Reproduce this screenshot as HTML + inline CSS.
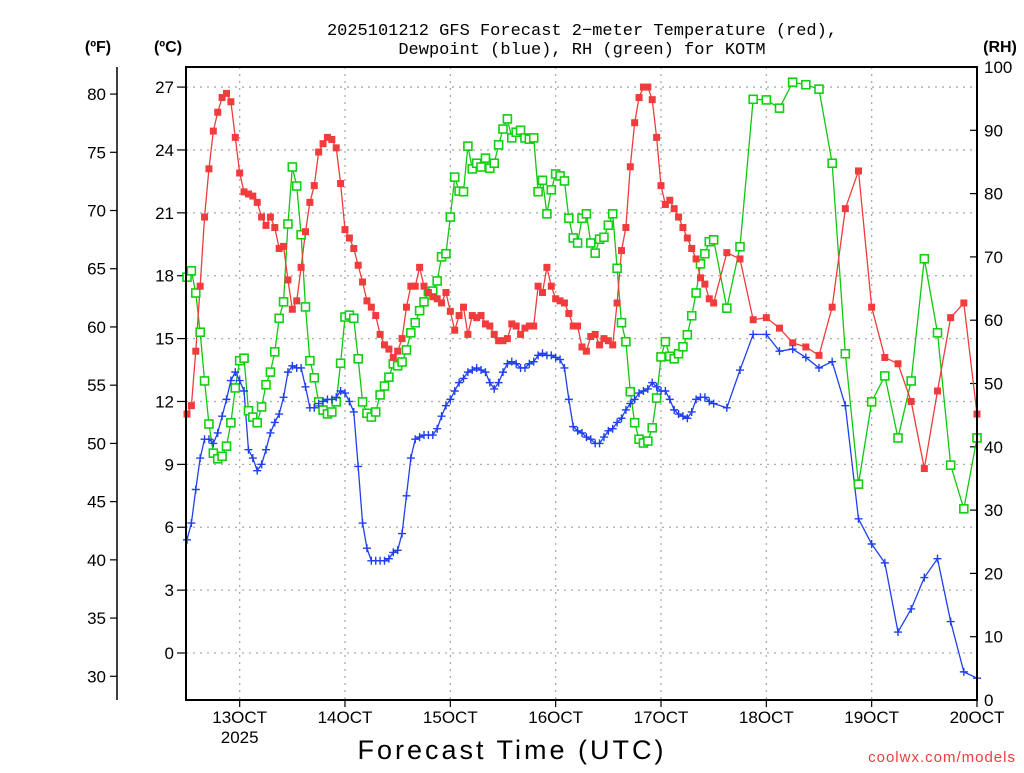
<!DOCTYPE html>
<html><head><meta charset="utf-8"><style>
body{margin:0;background:#fff;width:1024px;height:768px;overflow:hidden}
svg text{font-family:"Liberation Sans",sans-serif}
svg text.mono{font-family:"Liberation Mono",monospace}
</style></head><body>
<svg id="chart" width="1024" height="768" viewBox="0 0 1024 768" xmlns="http://www.w3.org/2000/svg">
<text class="mono" x="582" y="35" font-size="17" text-anchor="middle">2025101212 GFS Forecast 2−meter Temperature (red),</text>
<text class="mono" x="582" y="54" font-size="17" text-anchor="middle">Dewpoint (blue), RH (green) for KOTM</text>
<text x="98" y="52" font-size="16" font-weight="bold" text-anchor="middle">(ºF)</text>
<text x="168" y="52" font-size="16" font-weight="bold" text-anchor="middle">(ºC)</text>
<text x="1000" y="52" font-size="16" font-weight="bold" text-anchor="middle">(RH)</text>
<text x="512" y="759" font-size="27" text-anchor="middle" letter-spacing="3">Forecast Time (UTC)</text>
<text x="1016" y="762" font-size="15" fill="#f03c3c" text-anchor="end" letter-spacing="1">coolwx.com/models</text>
<g id="grid"></g><g id="axes"></g><g id="series"></g>
<rect x="186" y="67" width="791" height="633" fill="none" stroke="#000" stroke-width="2"/>
</svg>
<script>
const hours=[0,1,2,3,4,5,6,7,8,9,10,11,12,13,14,15,16,17,18,19,20,21,22,23,24,25,26,27,28,29,30,31,32,33,34,35,36,37,38,39,40,41,42,43,44,45,46,47,48,49,50,51,52,53,54,55,56,57,58,59,60,61,62,63,64,65,66,67,68,69,70,71,72,73,74,75,76,77,78,79,80,81,82,83,84,85,86,87,88,89,90,91,92,93,94,95,96,97,98,99,100,101,102,103,104,105,106,107,108,109,110,111,112,113,114,115,116,117,118,119,120,123,126,129,132,135,138,141,144,147,150,153,156,159,162,165,168,171,174,177,180];
const tempC=[11.4,11.8,14.4,17.5,20.8,23.1,24.9,25.8,26.5,26.7,26.3,24.6,22.9,22.0,21.9,21.8,21.5,20.8,20.4,20.8,20.3,19.3,19.4,17.8,16.4,16.8,18.4,20.1,21.5,22.3,23.9,24.3,24.6,24.5,24.1,22.4,20.2,19.8,19.3,18.5,17.7,16.8,16.5,16.1,15.2,14.7,14.5,14.1,14.4,15.0,16.5,17.5,17.5,18.4,17.5,17.2,17.0,16.9,16.7,17.2,16.3,
15.4,16.1,16.5,15.2,16.1,16.0,16.1,15.7,15.6,15.2,14.9,14.9,15.0,15.7,15.6,15.2,15.5,15.6,15.6,17.5,17.2,18.4,17.5,16.9,16.8,16.7,16.2,15.6,15.6,14.6,14.4,15.1,15.2,14.7,15.0,14.9,14.7,16.7,19.2,20.3,23.2,25.3,26.5,27.0,27.0,26.4,24.6,22.3,21.4,21.6,21.2,20.8,20.3,19.8,19.3,18.8,17.9,17.6,16.9,16.7,
19.1,18.8,15.9,16.0,15.5,14.8,14.6,14.2,16.5,21.2,23.0,16.5,14.1,13.8,12.0,8.8,12.5,16.0,16.7,11.4];
const dewC=[5.4,6.2,7.8,9.3,10.2,10.2,10.0,10.5,11.3,12.1,13.0,13.4,13.0,12.5,9.7,9.3,8.7,9.0,9.7,10.5,11.0,11.4,12.2,13.4,13.7,13.6,13.6,12.7,11.7,11.7,11.9,12.0,12.1,12.1,12.2,12.5,12.4,12.0,11.5,8.9,6.2,5.0,4.4,4.4,4.4,4.4,4.5,4.8,4.9,5.7,7.5,9.3,10.2,10.3,10.4,10.4,10.4,10.7,11.3,11.8,12.1,
12.5,12.9,13.1,13.4,13.5,13.6,13.5,13.4,12.9,12.6,12.9,13.4,13.8,13.9,13.8,13.6,13.6,13.8,13.9,14.2,14.3,14.2,14.2,14.1,14.0,13.6,12.1,10.8,10.6,10.5,10.3,10.2,10.0,10.0,10.3,10.6,10.7,11.0,11.2,11.6,11.9,12.1,12.4,12.5,12.6,12.9,12.7,12.5,12.5,12.1,11.6,11.4,11.3,11.2,11.5,12.1,12.2,12.2,12.0,11.9,
11.7,13.5,15.2,15.2,14.4,14.5,14.1,13.6,13.9,11.8,6.4,5.2,4.3,1.0,2.1,3.6,4.5,1.5,-0.9,-1.2];
const rh=[66.8,67.8,64.3,58.1,50.4,43.6,39.0,38.1,38.5,40.1,43.8,49.3,53.6,54.0,45.7,44.7,43.8,46.3,49.8,51.8,55.0,60.3,62.9,75.2,84.2,81.2,73.5,62.1,53.6,50.9,47.1,45.8,45.2,45.5,47.1,53.2,60.5,60.8,60.3,53.9,47.1,45.3,44.7,45.5,48.2,49.6,51.0,53.1,52.8,53.4,55.3,58.0,59.6,61.5,62.9,64.5,64.6,66.2,70.0,70.5,76.3,
82.6,80.4,80.3,87.5,83.9,84.8,84.2,85.6,84.0,84.8,87.7,90.2,91.8,88.8,89.7,90.0,88.8,88.6,88.8,80.3,82.1,76.8,80.6,83.1,82.8,82.0,76.1,73.0,72.2,76.1,76.8,72.2,70.6,72.8,73.1,75.0,76.8,68.2,59.6,56.6,48.7,43.8,41.2,40.6,40.9,43.0,47.7,54.2,56.6,54.3,53.9,54.7,55.8,57.7,60.7,64.3,68.9,70.5,72.4,72.7,
61.9,71.6,94.9,94.8,93.5,97.6,97.2,96.5,84.8,54.7,34.1,47.1,51.2,41.4,50.4,69.7,58.0,37.1,30.2,41.4];
const celsiusTicks=[0,3,6,9,12,15,18,21,24,27];
const fahrenheitTicks=[30,35,40,45,50,55,60,65,70,75,80];
const rhTicks=[0,10,20,30,40,50,60,70,80,90,100];
const dayLabels=["13OCT","14OCT","15OCT","16OCT","17OCT","18OCT","19OCT","20OCT"];
const dayHours=[12,36,60,84,108,132,156,180];

const NS="http://www.w3.org/2000/svg";
const xs=h=>187+h*(790/180);
const yC=c=>653-c*20.96;
const yF=f=>yC((f-32)*5/9);
const yRH=r=>700-r*6.33;
function mk(tag,attrs,parent){const e=document.createElementNS(NS,tag);for(const k in attrs)e.setAttribute(k,attrs[k]);parent.appendChild(e);return e;}
const grid=document.getElementById('grid'),axes=document.getElementById('axes'),ser=document.getElementById('series');

celsiusTicks.forEach(c=>{
  const y=yC(c);
  const g=mk('line',{x1:186,x2:977,y1:y,y2:y,stroke:'#aaa','stroke-width':1.3,'stroke-dasharray':'2,5'},grid);
  
  
  const t=mk('line',{x1:177,x2:186,y1:y,y2:y,stroke:'#000','stroke-width':1.2},axes);
  
  
  const l=mk('text',{x:174,y:y+6,'font-size':17,'text-anchor':'end'},axes);l.textContent=c;
  
  
});
const fl=mk('line',{x1:117,x2:117,y1:67,y2:700,stroke:'#000','stroke-width':1.5},axes);


fahrenheitTicks.forEach(f=>{
  const y=yF(f);
  const t=mk('line',{x1:110,x2:117,y1:y,y2:y,stroke:'#000','stroke-width':1.2},axes);
  
  
  const l=mk('text',{x:106,y:y+6,'font-size':17,'text-anchor':'end'},axes);l.textContent=f;
  
  
});
rhTicks.forEach(r=>{
  const y=yRH(r);
  const t=mk('line',{x1:970,x2:977,y1:y,y2:y,stroke:'#000','stroke-width':1.2},axes);
  
  
  const l=mk('text',{x:984,y:y+6,'font-size':17},axes);l.textContent=r;
  
  
});
dayHours.forEach((h,i)=>{
  const x=xs(h);
  const g=mk('line',{x1:x,x2:x,y1:67,y2:700,stroke:'#aaa','stroke-width':1.3,'stroke-dasharray':'2,5'},grid);
  
  
  const t=mk('line',{x1:x,x2:x,y1:700,y2:707,stroke:'#000','stroke-width':1.2},axes);
  
  
  const l=mk('text',{x:x,y:723,'font-size':17,'text-anchor':'middle'},axes);l.textContent=dayLabels[i];
  
  
});
const yr=mk('text',{x:xs(12),y:743,'font-size':17,'text-anchor':'middle'},axes);yr.textContent='2025';



function line(vals,fy,color,name){
  const p=mk('polyline',{points:vals.map((v,i)=>xs(hours[i])+','+fy(v)).join(' '),fill:'none',stroke:color,'stroke-width':1.3},ser);
  
  
}
line(rh,yRH,'#10c810','rh-line');
line(tempC,yC,'#f03c3c','temperature-line');
line(dewC,yC,'#2040f0','dewpoint-line');
rh.forEach((v,i)=>{
  const r=mk('rect',{x:xs(hours[i])-4,y:yRH(v)-4,width:8,height:8,fill:'#fff',stroke:'#10d010','stroke-width':1.6},ser);
  
  
});
tempC.forEach((v,i)=>{
  const r=mk('rect',{x:xs(hours[i])-3.5,y:yC(v)-3.5,width:7,height:7,fill:'#f03c3c'},ser);
  
  
});
dewC.forEach((v,i)=>{
  const x=xs(hours[i]),y=yC(v);
  const p=mk('path',{d:`M${x-4},${y}H${x+4}M${x},${y-4}V${y+4}`,stroke:'#2040f0','stroke-width':1.4},ser);
  
  
});
</script>
</body></html>
